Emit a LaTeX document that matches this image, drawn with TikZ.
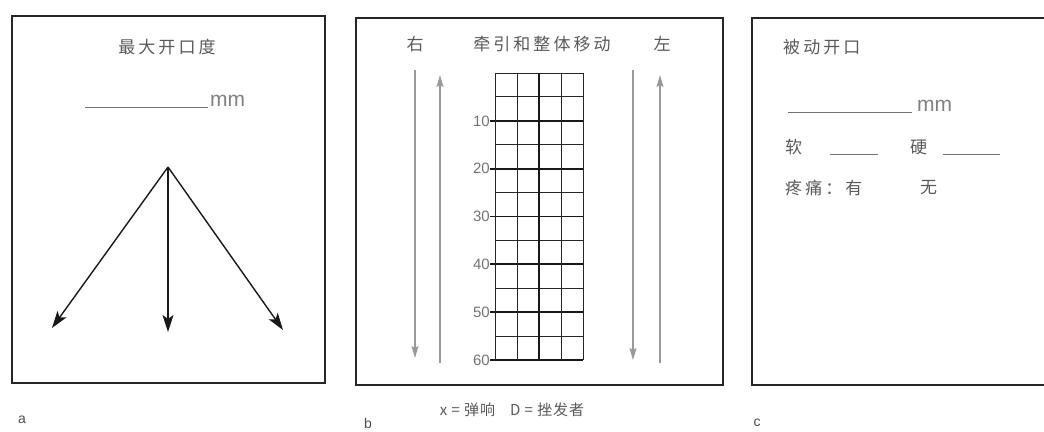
\documentclass[tikz,border=0pt]{standalone}
\usepackage{fontspec}
\setmainfont{Liberation Sans}
\newfontfamily\cjk{Noto Sans CJK SC}[LetterSpace=18]
\newfontfamily\cjkplain{Noto Sans CJK SC}[LetterSpace=6]
\usetikzlibrary{arrows.meta,positioning}
\tikzset{
	frame/.style={draw=black!85,line width=1.6pt},
	zh/.style={text=black!65,inner sep=0pt,font=\cjk\fontsize{17}{20}\selectfont},
	unit/.style={text=black!50,inner sep=0pt,font=\fontsize{21}{24}\selectfont},
	tag/.style={text=black!70,inner sep=0pt,font=\fontsize{14}{16}\selectfont},
	scale num/.style={text=black!55,inner sep=0pt,font=\fontsize{15}{17}\selectfont},
	blank/.style={draw=black!55,line width=1pt},
	opening/.style={draw=black!90,line width=1.4pt,-{Stealth[length=17pt,width=11pt,inset=4pt]}},
	pull/.style={draw=black!40,line width=1.3pt,-{Stealth[length=12pt,width=7pt,inset=2pt]}},
	thin grid/.style={draw=black!85,line width=1pt},
	thick grid/.style={draw=black!90,line width=1.8pt}
}
\begin{document}
\begin{tikzpicture}[x=1pt,y=-1pt]
\clip (0,0) rectangle (1044,431);
\useasboundingbox (0,0) rectangle (1044,431);

% a
\draw[frame] (12,16) rectangle (325,383);
\node[zh] (titleA) at (167,47) {最大开口度};
\coordinate (lineA1) at (85,107);
\coordinate (lineA2) at (208,107);
\draw[blank] (lineA1) -- (lineA2);
\node[unit,right=2pt of lineA2,anchor=south west] (mmA) {mm};
\coordinate (apex) at (168,167);
\coordinate (tipL) at (52,328);
\coordinate (tipM) at (168,332);
\coordinate (tipR) at (283,330);
\draw[opening] (apex) -- (tipL);
\draw[opening] (apex) -- (tipM);
\draw[opening] (apex) -- (tipR);
\node[tag] (labA) at (22,420) {a};

% b
\draw[frame] (356,18) rectangle (723,385);
\node[zh] (right) at (415,44) {右};
\node[zh] (titleB) at (542,44) {牵引和整体移动};
\node[zh] (left) at (662,44) {左};
\coordinate (r1) at (415,70); \coordinate (r2) at (415,358);
\coordinate (r3) at (440,363); \coordinate (r4) at (440,75);
\coordinate (l1) at (633,70); \coordinate (l2) at (633,360);
\coordinate (l3) at (660,363); \coordinate (l4) at (660,75);
\draw[pull] (r1) -- (r2);
\draw[pull] (r3) -- (r4);
\draw[pull] (l1) -- (l2);
\draw[pull] (l3) -- (l4);
\foreach \i in {0,...,12}
	\draw[thin grid] (495,73+\i*23.92) -- (583,73+\i*23.92);
\foreach \i in {2,4,...,12}
	\draw[thick grid] (490,73+\i*23.92) -- (583,73+\i*23.92);
\foreach \x in {495,517,561,583}
	\draw[thin grid] (\x,73) -- (\x,360);
\draw[thick grid,line width=2.4pt] (539,73) -- (539,360);
\foreach \n [count=\i] in {10,20,30,40,50,60}
	\node[scale num,anchor=east] (num\n) at (490,73+2*\i*23.92) {\n};
\node[zh,font=\cjkplain\fontsize{15}{18}\selectfont] (legend) at (512,410) {x = 弹响\quad D = 挫发者};
\node[tag] (labB) at (368,423) {b};

% c
\draw[frame] (1060,18) -- (752,18) -- (752,385) -- (1060,385);
\node[zh,anchor=west] (titleC) at (783,47) {被动开口};
\coordinate (lineC1) at (788,112);
\coordinate (lineC2) at (912,112);
\draw[blank] (lineC1) -- (lineC2);
\node[unit,right=5pt of lineC2,anchor=south west] (mmC) {mm};
\node[zh,anchor=west] (soft) at (785,147) {软};
\coordinate (softA) at (830,154); \coordinate (softB) at (878,154);
\draw[blank] (softA) -- (softB);
\node[zh,anchor=west] (hard) at (910,147) {硬};
\coordinate (hardA) at (943,154); \coordinate (hardB) at (1000,154);
\draw[blank] (hardA) -- (hardB);
\node[zh,anchor=west] (pain) at (785,188) {疼痛：有};
\node[zh,anchor=west] (none) at (920,188) {无};
\node[tag] (labC) at (757,423) {c};
\end{tikzpicture}
\end{document}
